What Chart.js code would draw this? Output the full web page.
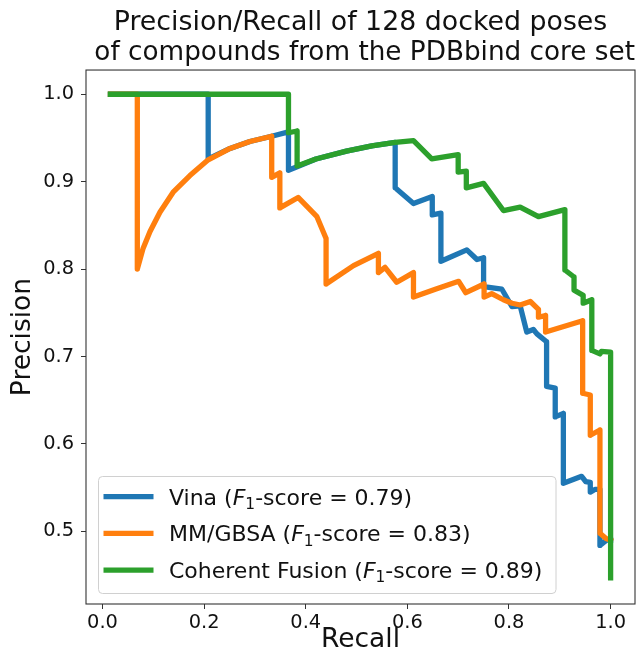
<!DOCTYPE html>
<html>
<head>
<meta charset="utf-8">
<script src="https://cdn.jsdelivr.net/npm/chart.js@4.4.0/dist/chart.umd.min.js"></script>
<style>
  html, body { margin: 0; padding: 0; background: #ffffff; }
  #wrap { width: 642px; height: 660px; }
</style>
</head>
<body>
<div id="wrap"><canvas id="c" width="642" height="660"></canvas></div>
<script>
// ---- Data ----
const seriesNames = ['Vina', 'MM/GBSA', 'Coherent Fusion'];
const f1Scores = ['0.79', '0.83', '0.89'];

const vinaRecall = [0.0156, 0.208, 0.208, 0.251, 0.290, 0.333, 0.366, 0.366, 0.383, 0.42, 0.48, 0.53, 0.576, 0.576, 0.612, 0.649, 0.649, 0.666, 0.666, 0.717, 0.737, 0.750, 0.750, 0.786, 0.806, 0.822, 0.835, 0.848, 0.855, 0.874, 0.874, 0.891, 0.891, 0.907, 0.907, 0.943, 0.951, 0.960, 0.960, 0.969, 0.979, 0.979, 0.992, 1.0];
const vinaPrecision = [1.0, 1.0, 0.926, 0.938, 0.946, 0.952, 0.957, 0.913, 0.917, 0.926, 0.935, 0.941, 0.945, 0.893, 0.875, 0.883, 0.862, 0.864, 0.809, 0.822, 0.811, 0.813, 0.780, 0.777, 0.757, 0.758, 0.728, 0.731, 0.726, 0.717, 0.666, 0.664, 0.631, 0.635, 0.555, 0.563, 0.557, 0.556, 0.545, 0.548, 0.548, 0.484, 0.490, 0.490];

const mmgbsaRecall = [0.0156, 0.0685, 0.0685, 0.080, 0.0935, 0.113, 0.139, 0.172, 0.208, 0.251, 0.290, 0.333, 0.333, 0.349, 0.349, 0.385, 0.422, 0.440, 0.440, 0.494, 0.543, 0.543, 0.556, 0.579, 0.612, 0.612, 0.655, 0.701, 0.715, 0.751, 0.751, 0.766, 0.789, 0.806, 0.822, 0.842, 0.858, 0.858, 0.872, 0.872, 0.945, 0.945, 0.960, 0.960, 0.979, 0.979, 0.991, 1.0];
const mmgbsaPrecision = [1.0, 1.0, 0.800, 0.824, 0.843, 0.865, 0.888, 0.907, 0.925, 0.938, 0.946, 0.952, 0.905, 0.910, 0.870, 0.882, 0.860, 0.835, 0.783, 0.804, 0.818, 0.796, 0.802, 0.785, 0.796, 0.768, 0.777, 0.786, 0.773, 0.783, 0.768, 0.772, 0.765, 0.761, 0.759, 0.763, 0.754, 0.745, 0.747, 0.728, 0.741, 0.658, 0.656, 0.610, 0.616, 0.498, 0.492, 0.490];

const fusionRecall = [0.0156, 0.366, 0.366, 0.383, 0.383, 0.42, 0.48, 0.53, 0.576, 0.612, 0.648, 0.700, 0.700, 0.716, 0.716, 0.750, 0.789, 0.822, 0.858, 0.910, 0.910, 0.928, 0.928, 0.946, 0.946, 0.963, 0.963, 0.979, 0.982, 1.0, 1.0];
const fusionPrecision = [1.0, 1.0, 0.956, 0.958, 0.918, 0.926, 0.935, 0.941, 0.945, 0.947, 0.926, 0.931, 0.911, 0.912, 0.893, 0.898, 0.867, 0.871, 0.860, 0.868, 0.799, 0.791, 0.776, 0.770, 0.761, 0.765, 0.707, 0.703, 0.706, 0.705, 0.447];

const xTicks = [0.0, 0.2, 0.4, 0.6, 0.8, 1.0];
const yTicks = [0.5, 0.6, 0.7, 0.8, 0.9, 1.0];

const colors = ['#1f77b4', '#ff7f0e', '#2ca02c'];

// ---- Build datasets ----
function pts(xs, ys) { return xs.map((x, i) => ({ x: x, y: ys[i] })); }
const allSeries = [
  pts(vinaRecall, vinaPrecision),
  pts(mmgbsaRecall, mmgbsaPrecision),
  pts(fusionRecall, fusionPrecision)
];

const FONT = '"DejaVu Sans", "Liberation Sans", sans-serif';
const LW = 5.3;

const framePlugin = {
  id: 'frame',
  afterDatasetsDraw(chart) {
    const { ctx, chartArea: a } = chart;
    ctx.save();
    ctx.strokeStyle = '#333333';
    ctx.lineWidth = 1.1;
    ctx.strokeRect(a.left, a.top, a.right - a.left, a.bottom - a.top);
    ctx.restore();
  }
};

function roundRect(ctx, x, y, w, h, r) {
  ctx.beginPath();
  ctx.moveTo(x + r, y);
  ctx.lineTo(x + w - r, y);
  ctx.quadraticCurveTo(x + w, y, x + w, y + r);
  ctx.lineTo(x + w, y + h - r);
  ctx.quadraticCurveTo(x + w, y + h, x + w - r, y + h);
  ctx.lineTo(x + r, y + h);
  ctx.quadraticCurveTo(x, y + h, x, y + h - r);
  ctx.lineTo(x, y + r);
  ctx.quadraticCurveTo(x, y, x + r, y);
  ctx.closePath();
}

const legendPlugin = {
  id: 'mplLegend',
  afterDraw(chart) {
    const ctx = chart.ctx;
    const fs = 22;
    const bx = 98.5, by = 476.5, bw = 457.5, bh = 117;
    ctx.save();
    roundRect(ctx, bx, by, bw, bh, 4);
    ctx.fillStyle = 'rgba(255,255,255,0.8)';
    ctx.fill();
    ctx.strokeStyle = '#d0d0d0';
    ctx.lineWidth = 1;
    ctx.stroke();
    const rows = [496.7, 533.4, 570.1];
    chart.data.datasets.forEach((ds, i) => {
      const cy = rows[i];
      ctx.beginPath();
      ctx.strokeStyle = ds.borderColor;
      ctx.lineWidth = LW;
      ctx.lineCap = 'butt';
      ctx.moveTo(103.5, cy);
      ctx.lineTo(153.5, cy);
      ctx.stroke();
      // text: Name (F_1-score = x)
      let x = 169;
      const base = cy + 7.8;
      ctx.fillStyle = '#111111';
      ctx.textBaseline = 'alphabetic';
      ctx.textAlign = 'left';
      ctx.font = fs + 'px ' + FONT;
      const s1 = seriesNames[i] + ' (';
      ctx.fillText(s1, x, base); x += ctx.measureText(s1).width;
      ctx.font = 'italic ' + fs + 'px ' + FONT;
      ctx.fillText('F', x, base); x += ctx.measureText('F').width;
      ctx.font = (fs * 0.7) + 'px ' + FONT;
      ctx.fillText('1', x, base + fs * 0.2); x += ctx.measureText('1').width;
      ctx.font = fs + 'px ' + FONT;
      ctx.fillText('-score = ' + f1Scores[i] + ')', x, base);
    });
    ctx.restore();
  }
};

const tickFont = { family: FONT, size: 19.4 };

new Chart(document.getElementById('c'), {
  type: 'line',
  data: {
    datasets: allSeries.map((d, i) => ({
      label: seriesNames[i] + ' (F1-score = ' + f1Scores[i] + ')',
      data: d,
      borderColor: colors[i],
      backgroundColor: colors[i],
      borderWidth: LW,
      pointRadius: 0,
      pointHoverRadius: 0,
      tension: 0,
      fill: false,
      borderJoinStyle: 'round',
      borderCapStyle: 'square',
      order: 3 - i
    }))
  },
  options: {
    responsive: false,
    animation: false,
    events: [],
    layout: { padding: { left: 0, right: 7, top: 0, bottom: 0 } },
    plugins: {
      legend: { display: false },
      tooltip: { enabled: false },
      title: {
        display: true,
        fullSize: false,
        text: ['Precision/Recall of 128 docked poses', ' of compounds from the PDBbind core set'],
        color: '#111111',
        font: { family: FONT, size: 26.8, weight: 'normal', lineHeight: 1.12 },
        padding: { top: 8, bottom: 2 }
      }
    },
    scales: {
      x: {
        type: 'linear',
        min: -0.0325,
        max: 1.048,
        afterBuildTicks: (s) => { s.ticks = xTicks.map(v => ({ value: v })); },
        afterFit: (s) => { s.height = 56; },
        ticks: {
          autoSkip: false, maxRotation: 0, minRotation: 0,
          color: '#111111', font: tickFont, padding: 2,
          callback: (v) => Number(v).toFixed(1)
        },
        grid: { drawOnChartArea: false, tickLength: 5, color: '#333333', tickColor: '#333333', lineWidth: 1 },
        border: { display: false },
        title: {
          display: true, text: 'Recall', color: '#111111',
          font: { family: FONT, size: 26.5, weight: 'normal', lineHeight: 1.2 },
          padding: { top: 0, bottom: 4 }
        }
      },
      y: {
        type: 'linear',
        min: 0.417,
        max: 1.0277,
        afterBuildTicks: (s) => { s.ticks = yTicks.map(v => ({ value: v })); },
        afterFit: (s) => { s.width = 86; },
        ticks: {
          autoSkip: false,
          color: '#111111', font: tickFont, padding: 7,
          callback: (v) => Number(v).toFixed(1)
        },
        grid: { drawOnChartArea: false, tickLength: 5, color: '#333333', tickColor: '#333333', lineWidth: 1 },
        border: { display: false },
        title: {
          display: true, text: 'Precision', color: '#111111',
          font: { family: FONT, size: 26.5, weight: 'normal', lineHeight: 1.2 },
          padding: { top: 7, bottom: 0 }
        }
      }
    }
  },
  plugins: [framePlugin, legendPlugin]
});
</script>
</body>
</html>
